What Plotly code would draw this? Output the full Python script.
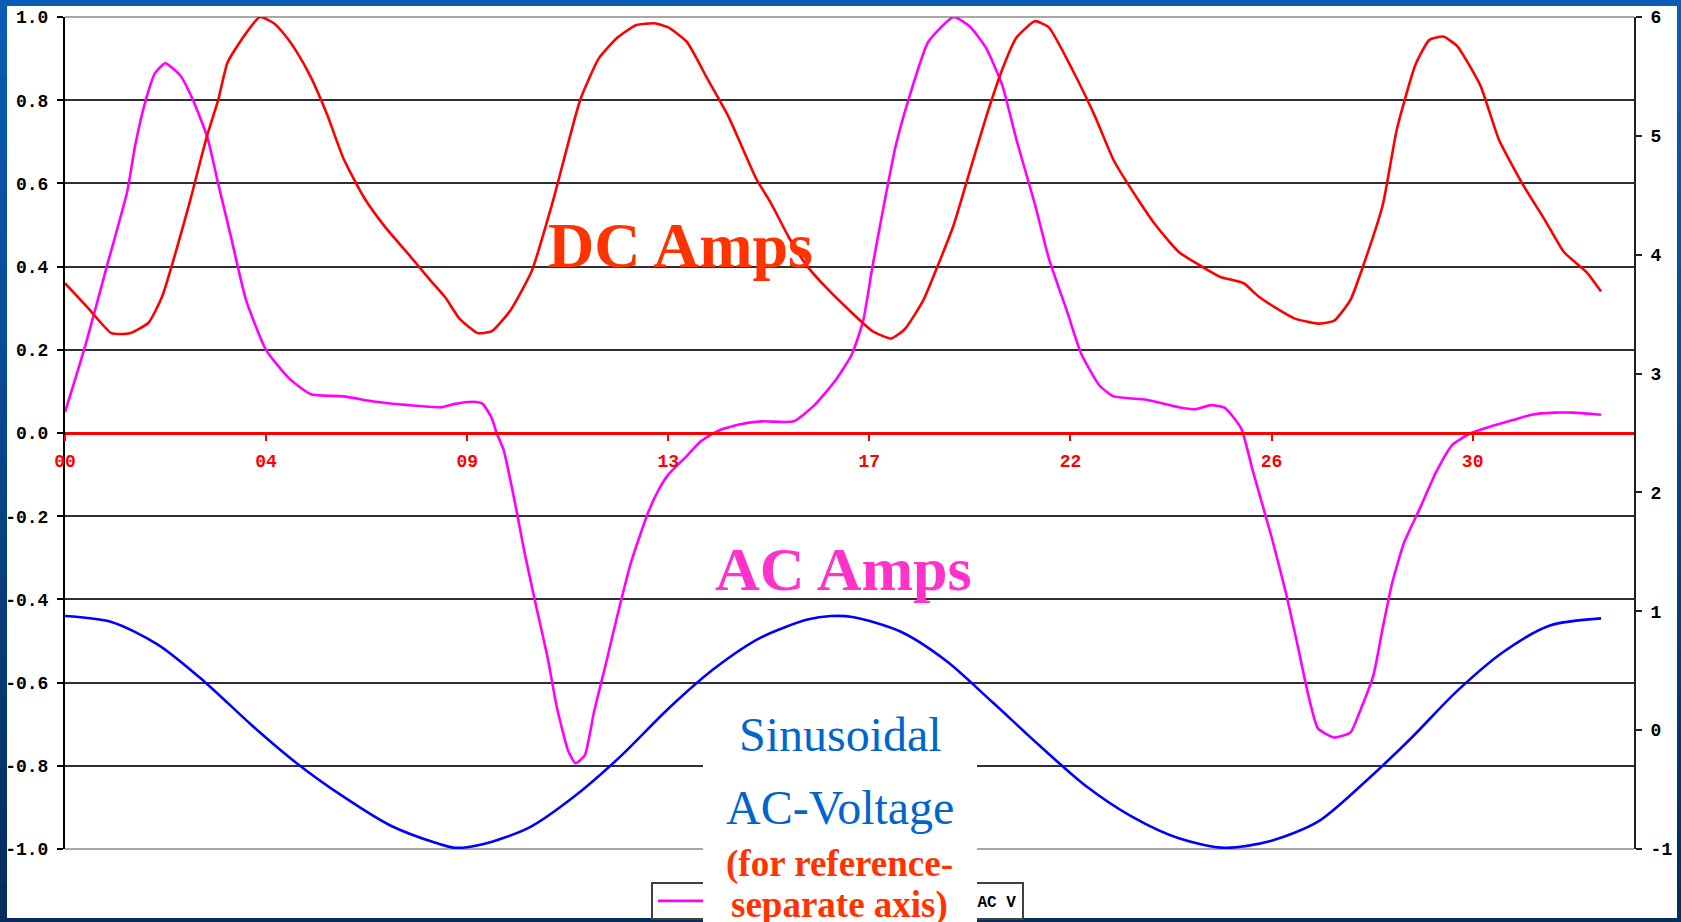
import plotly.graph_objects as go

# ---------------- data ----------------
# DC Amps (left axis)
dc_t = [0.0, 0.5, 1.0, 1.4, 1.8, 2.1, 2.4, 2.7, 3.05, 3.3, 3.5, 3.8, 4.2, 4.5, 4.75, 5.0,
        5.3, 5.65, 6.0, 6.45, 6.9, 7.4, 7.85, 8.2, 8.5, 8.9, 9.2, 9.6, 10.06, 10.52, 11.1,
        11.5, 11.9, 12.3, 12.7, 13.0, 13.4, 13.85, 14.3, 14.9, 15.2, 15.6, 16.0, 16.4, 16.9,
        17.4, 17.8, 18.1, 18.5, 18.8, 19.15, 19.5, 19.85, 20.2, 20.5, 20.9, 21.2, 21.7, 22.2,
        22.6, 23.1, 23.5, 24.0, 24.5, 24.9, 25.4, 25.7, 26.1, 26.5, 27.0, 27.35, 27.7, 28.0,
        28.4, 28.7, 29.1, 29.4, 29.7, 30.0, 30.5, 30.9, 31.4, 31.9, 32.3, 32.8, 33.1]
dc_amps = [0.36, 0.30, 0.24, 0.24, 0.265, 0.33, 0.44, 0.56, 0.71, 0.80, 0.89, 0.945, 1.0,
           0.985, 0.955, 0.915, 0.855, 0.765, 0.66, 0.565, 0.495, 0.43, 0.37, 0.325, 0.275,
           0.24, 0.245, 0.295, 0.39, 0.56, 0.80, 0.90, 0.95, 0.98, 0.985, 0.975, 0.94, 0.85,
           0.76, 0.61, 0.555, 0.47, 0.40, 0.35, 0.295, 0.245, 0.227, 0.25, 0.32, 0.40, 0.50,
           0.63, 0.76, 0.875, 0.95, 0.99, 0.975, 0.875, 0.76, 0.655, 0.565, 0.50, 0.435, 0.40,
           0.375, 0.36, 0.33, 0.30, 0.275, 0.263, 0.27, 0.32, 0.41, 0.55, 0.73, 0.885, 0.945,
           0.953, 0.93, 0.835, 0.705, 0.60, 0.51, 0.435, 0.385, 0.34]

# AC Amps (left axis)
ac_t = [0.0, 0.45, 0.9, 1.34, 1.51, 1.74, 1.94, 2.16, 2.48, 2.76, 3.07, 3.3, 3.6, 3.9, 4.33,
        4.84, 5.3, 6.0, 6.7, 7.4, 8.1, 8.4, 8.8, 9.0, 9.2, 9.3, 9.45, 9.7, 9.9, 10.15,
        10.4, 10.6, 10.84, 11.0, 11.2, 11.4, 11.65, 11.9, 12.2, 12.57, 12.8, 13.0, 13.4, 13.7,
        14.07, 14.5, 15.0, 15.7, 16.15, 16.6, 16.96, 17.2, 17.4, 17.65, 17.9, 18.2, 18.6,
        19.15, 19.5, 19.85, 20.2, 20.5, 20.9, 21.2, 21.6, 21.9, 22.3, 22.6, 23.3, 24.0, 24.35,
        24.7, 25.0, 25.35, 25.6, 26.0, 26.3, 26.55, 26.8, 27.0, 27.35, 27.7, 27.9, 28.2, 28.4,
        28.6, 28.85, 29.2, 29.55, 29.9, 30.3, 30.7, 31.2, 31.6, 32.1, 32.5, 33.1]
ac_amps = [0.05, 0.215, 0.40, 0.58, 0.69, 0.80, 0.865, 0.889, 0.86, 0.80, 0.71, 0.60, 0.46,
           0.32, 0.20, 0.13, 0.093, 0.088, 0.075, 0.067, 0.062, 0.07, 0.075, 0.07,
           0.035, 0.0, -0.04, -0.17, -0.286, -0.415, -0.54, -0.66, -0.763, -0.794, -0.775,
           -0.67, -0.557, -0.44, -0.31, -0.19, -0.135, -0.10, -0.055, -0.02, 0.005, 0.02,
           0.028, 0.028, 0.067, 0.126, 0.19, 0.27, 0.40, 0.55, 0.69, 0.81, 0.94, 1.0, 0.977,
           0.925, 0.835, 0.706, 0.55, 0.42, 0.29, 0.19, 0.113, 0.088, 0.08, 0.062, 0.057,
           0.067, 0.06, 0.01, -0.093, -0.25, -0.38, -0.505, -0.634, -0.71, -0.732, -0.72,
           -0.67, -0.58, -0.466, -0.36, -0.265, -0.18, -0.093, -0.028, 0.0, 0.015, 0.031,
           0.044, 0.049, 0.049, 0.044]

# Sinusoidal AC voltage (right axis)
v_t = [0, 1, 2, 3, 4, 5, 6, 7, 8, 8.4, 9, 10, 11, 12, 13, 14, 15, 16, 16.5, 17, 18, 19, 20,
       21, 22, 23, 24, 25, 26, 27, 28, 29, 30, 31, 32, 33.1]
ac_volts = [0.96, 0.91, 0.72, 0.41, 0.05, -0.28, -0.56, -0.80, -0.95, -0.99, -0.96, -0.82,
            -0.55, -0.21, 0.18, 0.52, 0.78, 0.93, 0.96, 0.95, 0.83, 0.58, 0.23, -0.13,
            -0.47, -0.73, -0.91, -0.99, -0.93, -0.77, -0.44, -0.07, 0.33, 0.66, 0.88, 0.94]

series_names = ["AC Amps", "DC Amps", "AC V"]

x_tick_vals = [0, 4.333, 8.667, 13.0, 17.333, 21.667, 26.0, 30.333]
x_tick_text = ["00", "04", "09", "13", "17", "22", "26", "30"]
left_tick_vals = [1.0, 0.8, 0.6, 0.4, 0.2, 0.0, -0.2, -0.4, -0.6, -0.8, -1.0]
left_tick_text = ["1.0", "0.8", "0.6", "0.4", "0.2", "0.0", "-0.2", "-0.4", "-0.6", "-0.8", "-1.0"]
right_tick_vals = [6, 5, 4, 3, 2, 1, 0, -1]
right_tick_text = ["6", "5", "4", "3", "2", "1", "0", "-1"]

# ---------------- layout geometry ----------------
W, H = 1681, 922
L, R, T, B = 65, 47, 17, 73
PW = W - L - R
PH = H - T - B


def px(x):
    return (x - L) / PW


def py(y):
    return (H - B - y) / PH


MONO = "Liberation Mono"
SERIF = "Liberation Serif"
tickfont = dict(family=MONO, size=18, color="#000000", weight="bold")

fig = go.Figure()
fig.add_trace(go.Scatter(x=ac_t, y=ac_amps, name=series_names[0], mode="lines",
                         line=dict(color="#FF00FF", width=2.6, shape="spline", smoothing=0.5)))
fig.add_trace(go.Scatter(x=dc_t, y=dc_amps, name=series_names[1], mode="lines",
                         line=dict(color="#FF0000", width=2.6, shape="spline", smoothing=0.5)))
fig.add_trace(go.Scatter(x=v_t, y=ac_volts, name=series_names[2], mode="lines", yaxis="y2",
                         line=dict(color="#0000FF", width=2.6, shape="spline", smoothing=0.8)))

# background frame (blue gradient border + white panel)
shapes = []
top_c = (10, 92, 182)
bot_c = (5, 46, 92)
N = 24
for i in range(N):
    f = i / (N - 1)
    c = tuple(int(round(top_c[k] + (bot_c[k] - top_c[k]) * f)) for k in range(3))
    y0 = H * i / N
    y1 = H * (i + 1) / N + 1
    shapes.append(dict(type="rect", xref="paper", yref="paper", x0=px(0), x1=px(W),
                       y0=py(y1), y1=py(y0), fillcolor="rgb(%d,%d,%d)" % c,
                       line=dict(width=0), layer="below"))
shapes.append(dict(type="rect", xref="paper", yref="paper", x0=px(7), x1=px(1677),
                   y0=py(918), y1=py(6), fillcolor="white", line=dict(width=0), layer="below"))
# light grey top and bottom frame lines of the plot
for yy in (0, 1):
    shapes.append(dict(type="line", xref="paper", yref="paper", x0=0, x1=1, y0=yy, y1=yy,
                       line=dict(color="#A8A8A8", width=2), layer="between"))

annotations = [
    dict(text="DC Amps", xref="paper", yref="paper", x=px(680), y=py(245), showarrow=False,
         xanchor="center", yanchor="middle",
         font=dict(family=SERIF, size=64, color="#FF3300", weight="bold")),
    dict(text="AC Amps", xref="paper", yref="paper", x=px(843), y=py(569), showarrow=False,
         xanchor="center", yanchor="middle",
         font=dict(family=SERIF, size=62, color="#FF33CC", weight="bold")),
    # white panel covering the middle of the legend
    dict(text=" ", xref="paper", yref="paper", x=px(703), y=py(700), showarrow=False,
         xanchor="left", yanchor="top", width=274, height=222, bgcolor="white",
         borderpad=0, borderwidth=0),
    dict(text="Sinusoidal", xref="paper", yref="paper", x=px(840), y=py(734), showarrow=False,
         xanchor="center", yanchor="middle", font=dict(family=SERIF, size=48, color="#0066CC")),
    dict(text="AC-Voltage", xref="paper", yref="paper", x=px(840), y=py(807), showarrow=False,
         xanchor="center", yanchor="middle", font=dict(family=SERIF, size=48, color="#0066CC")),
    dict(text="(for reference-", xref="paper", yref="paper", x=px(839), y=py(864),
         showarrow=False, xanchor="center", yanchor="middle",
         font=dict(family=SERIF, size=37, color="#FF3300", weight="bold")),
    dict(text="separate axis)", xref="paper", yref="paper", x=px(839), y=py(905),
         showarrow=False, xanchor="center", yanchor="middle",
         font=dict(family=SERIF, size=37, color="#FF3300", weight="bold")),
]

fig.update_layout(
    width=W, height=H,
    margin=dict(l=L, r=R, t=T, b=B, pad=0, autoexpand=False),
    paper_bgcolor="#0A4F9C",
    plot_bgcolor="white",
    showlegend=True,
    hovermode=False,
    legend=dict(orientation="h", x=px(651), y=py(882), xanchor="left", yanchor="top",
                bgcolor="white", bordercolor="#404040", borderwidth=2, itemwidth=50,
                font=dict(family=MONO, size=16, color="#000000", weight="bold")),
    xaxis=dict(range=[0, 33.81], anchor="free", position=0.5, showgrid=False, zeroline=False,
               showline=True, linecolor="#FF0000", linewidth=3,
               ticks="outside", ticklen=6, tickwidth=2, tickcolor="#FF0000",
               tickvals=x_tick_vals, ticktext=x_tick_text, ticklabelstandoff=4,
               tickfont=dict(family=MONO, size=18, color="#FF0000", weight="bold")),
    yaxis=dict(range=[-1, 1], tickvals=left_tick_vals, ticktext=left_tick_text,
               showgrid=True, gridcolor="#303030", gridwidth=2, zeroline=False,
               showline=True, linecolor="#000000", linewidth=2,
               ticks="outside", ticklen=6, tickwidth=2, tickcolor="#000000",
               ticklabelstandoff=5, tickfont=tickfont),
    yaxis2=dict(range=[-1, 6], overlaying="y", side="right", anchor="x",
                tickvals=right_tick_vals, ticktext=right_tick_text,
                showgrid=False, zeroline=False, showline=True, linecolor="#202020",
                linewidth=2, ticks="outside", ticklen=6, tickwidth=2, tickcolor="#202020",
                ticklabelstandoff=5, tickfont=tickfont),
    shapes=shapes,
    annotations=annotations,
)

fig.write_html("out.html", config={"displayModeBar": False},
               post_script="document.body.style.margin='0px';document.body.style.overflow='hidden';")
